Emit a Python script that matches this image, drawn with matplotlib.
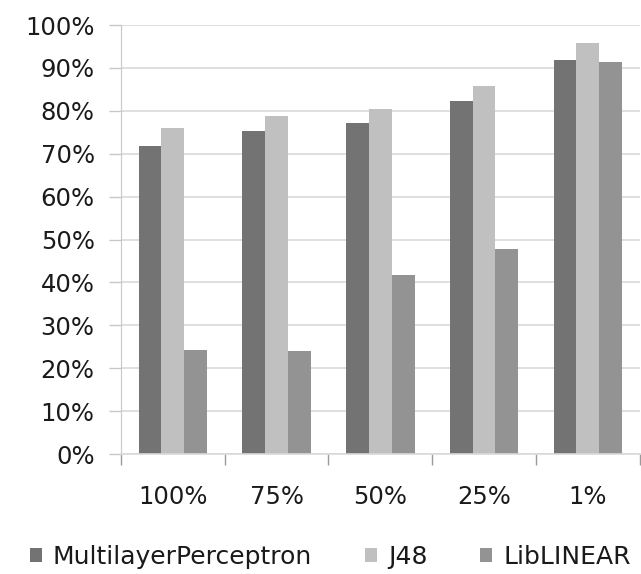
import numpy as np
import matplotlib.pyplot as plt
from matplotlib.ticker import FuncFormatter

categorias = ["100%", "75%", "50%", "25%", "1%"]
mlp = [71.7, 75.4, 77.1, 82.2, 91.8]
j48 = [76.0, 78.7, 80.5, 85.7, 95.7]
liblinear = [24.3, 24.0, 41.8, 47.9, 91.4]

series = [("MultilayerPerceptron", mlp, "#737373"),
          ("J48", j48, "#c0c0c0"),
          ("LibLINEAR", liblinear, "#939393")]

fig = plt.figure(figsize=(6.41, 5.74), dpi=100)
ax = fig.add_axes([0.1888, 0.209, 0.809, 0.7474])

x = np.arange(len(categorias))
w = 0.22
for i, (nome, vals, cor) in enumerate(series):
    ax.bar(x + (i - 1) * w, vals, w, color=cor, label=nome, zorder=2)

ax.set_xlim(-0.5, len(categorias) - 0.5)
ax.set_ylim(0, 100)
ax.set_yticks(np.arange(0, 101, 10))
ax.yaxis.set_major_formatter(FuncFormatter(lambda v, p: f"{v:.0f}%"))
ax.yaxis.grid(True, color="#d9d9d9", linewidth=1.2, zorder=0)

ax.set_xticks(x)
ax.set_xticklabels(categorias)
ax.set_xticks(np.arange(-0.5, len(categorias), 1), minor=True)
ax.tick_params(axis="x", which="major", length=0, pad=22, labelsize=17.5, colors="#1a1a1a")
ax.tick_params(axis="x", which="minor", length=8, color="#9a9a9a", width=1)
ax.tick_params(axis="y", length=9, color="#c8c8c8", width=1, pad=10, labelsize=17.5,
               labelcolor="#1a1a1a")

for s in ["top", "right"]:
    ax.spines[s].set_visible(False)
ax.spines["left"].set_color("#c8c8c8")
ax.spines["bottom"].set_color("#d9d9d9")
ax.spines["bottom"].set_linewidth(1.2)

fig.legend(loc="center", bbox_to_anchor=(0.515, 0.03), ncol=3, frameon=False,
           fontsize=18, handlelength=0.48, handleheight=0.48, handletextpad=0.45,
           columnspacing=2.1, borderpad=0, borderaxespad=0,
           labelcolor="#1a1a1a")

plt.savefig("out.png", dpi=100)
